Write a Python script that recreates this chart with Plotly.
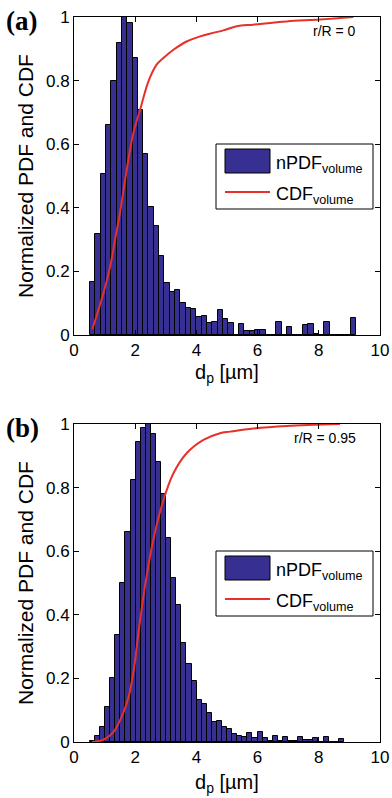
import plotly.graph_objects as go

# ---------------- data ----------------
# panel (a): r/R = 0, 50 histogram bins
bins_a_start = 0.52
bins_a_width = 0.174
npdf_a = [0.168, 0.318, 0.507, 0.661, 0.800, 0.918, 1.000, 0.981, 0.870, 0.708,
          0.569, 0.402, 0.343, 0.247, 0.165, 0.136, 0.142, 0.102, 0.085, 0.081,
          0.058, 0.060, 0.038, 0.042, 0.078, 0.051, 0.039, 0.000, 0.036, 0.014,
          0.014, 0.016, 0.017, 0.000, 0.000, 0.042, 0.000, 0.025, 0.000, 0.000,
          0.030, 0.034, 0.004, 0.000, 0.041, 0.000, 0.000, 0.000, 0.000, 0.055]
cdf_a_x = [0.60, 0.96, 1.18, 1.34, 1.50, 1.67, 1.94, 2.16, 2.43, 2.70, 2.92, 3.25,
           3.68, 4.12, 4.55, 4.88, 5.32, 5.86, 6.95, 8.04, 9.13]
cdf_a_y = [0.018, 0.131, 0.215, 0.299, 0.383, 0.488, 0.635, 0.708, 0.797, 0.850,
           0.871, 0.897, 0.923, 0.939, 0.950, 0.958, 0.971, 0.976, 0.986, 0.992, 1.0]

# panel (b): r/R = 0.95, 50 histogram bins
bins_b_start = 0.52
bins_b_width = 0.166
npdf_b = [0.003, 0.020, 0.048, 0.109, 0.200, 0.336, 0.500, 0.660, 0.824, 0.943,
          0.986, 1.000, 0.967, 0.879, 0.779, 0.643, 0.517, 0.430, 0.312, 0.244,
          0.193, 0.132, 0.118, 0.092, 0.062, 0.066, 0.046, 0.041, 0.026, 0.018,
          0.017, 0.028, 0.013, 0.030, 0.012, 0.002, 0.018, 0.004, 0.017, 0.004,
          0.004, 0.016, 0.005, 0.005, 0.013, 0.001, 0.015, 0.000, 0.000, 0.008]
cdf_b_x = [0.58, 0.96, 1.28, 1.56, 1.78, 1.99, 2.05, 2.32, 2.59, 2.92, 3.25, 3.68,
           4.23, 4.77, 5.10, 5.86, 6.95, 8.69]
cdf_b_y = [0.0, 0.007, 0.030, 0.080, 0.140, 0.250, 0.300, 0.490, 0.635, 0.760,
           0.845, 0.908, 0.950, 0.971, 0.976, 0.986, 0.994, 1.0]

x_ticks = [0, 2, 4, 6, 8, 10]
y_ticks = [0, 0.2, 0.4, 0.6, 0.8, 1]
y_tick_labels = ["0", "0.2", "0.4", "0.6", "0.8", "1"]
labels = ["(a)", "(b)"]
notes = ["r/R = 0", "r/R = 0.95"]
legend_names = ["nPDF<sub>volume</sub>", "CDF<sub>volume</sub>"]

# ---------------- figure ----------------
W, H = 392, 798
BAR = "#382f92"
RED = "#e8302a"
SANS = "Liberation Sans, Arial, Helvetica, sans-serif"
SERIF = "Liberation Serif, Times New Roman, serif"

centers_a = [bins_a_start + bins_a_width * (k + 0.5) for k in range(len(npdf_a))]
centers_b = [bins_b_start + bins_b_width * (k + 0.5) for k in range(len(npdf_b))]

fig = go.Figure()
fig.add_trace(go.Bar(x=centers_a, y=npdf_a, width=bins_a_width,
                     marker=dict(color=BAR, line=dict(color="black", width=1)),
                     name=legend_names[0], xaxis="x", yaxis="y"))
fig.add_trace(go.Scatter(x=cdf_a_x, y=cdf_a_y, mode="lines",
                         line=dict(color=RED, width=2, shape="spline"),
                         name=legend_names[1], xaxis="x", yaxis="y"))
fig.add_trace(go.Bar(x=centers_b, y=npdf_b, width=bins_b_width,
                     marker=dict(color=BAR, line=dict(color="black", width=1)),
                     name=legend_names[0], xaxis="x2", yaxis="y2"))
fig.add_trace(go.Scatter(x=cdf_b_x, y=cdf_b_y, mode="lines",
                         line=dict(color=RED, width=2, shape="spline"),
                         name=legend_names[1], xaxis="x2", yaxis="y2"))

xl, xr = 74, 380
panels = [(17, 335), (424, 742)]


def px_x(p):
    return p / W


def px_y(p):
    return 1 - p / H


axis_common = dict(showline=True, linecolor="black", linewidth=1, mirror="ticks",
                   ticks="inside", ticklen=5, tickcolor="black", showgrid=False,
                   zeroline=False, automargin=False,
                   tickfont=dict(family=SANS, size=17, color="black"))

layout = dict(width=W, height=H, margin=dict(l=0, r=0, t=0, b=0, autoexpand=False),
              paper_bgcolor="white", plot_bgcolor="white", bargap=0,
              font=dict(family=SANS, color="black"), showlegend=False)
for i, (top, bot) in enumerate(panels):
    sfx = "" if i == 0 else str(i + 1)
    layout["xaxis" + sfx] = dict(axis_common, domain=[px_x(xl), px_x(xr)], range=[0, 10],
                                 tickvals=x_ticks, anchor="y" + sfx)
    layout["yaxis" + sfx] = dict(axis_common, domain=[px_y(bot), px_y(top)], range=[0, 1],
                                 tickvals=y_ticks, ticktext=y_tick_labels, anchor="x" + sfx)
fig.update_layout(**layout)

ann = []
shapes = []
offs = [0, 3]
for i, (top, bot) in enumerate(panels):
    ann.append(dict(text="<b>" + labels[i] + "</b>", x=px_x(4), y=px_y(top - 13),
                    xref="paper", yref="paper", xanchor="left", yanchor="top", showarrow=False,
                    font=dict(family=SERIF, size=27, color="black")))
    ann.append(dict(text=notes[i], x=px_x(358), y=px_y(top + 14), xref="paper", yref="paper",
                    xanchor="right", yanchor="middle", showarrow=False,
                    font=dict(family=SANS, size=14, color="black")))
    ann.append(dict(text="d<sub>p</sub> [µm]", x=px_x((xl + xr) / 2), y=px_y(bot + 38 + offs[i]),
                    xref="paper", yref="paper", xanchor="center", yanchor="middle",
                    showarrow=False, font=dict(family=SANS, size=20, color="black")))
    ann.append(dict(text="Normalized PDF and CDF", x=px_x(25), y=px_y((top + bot) / 2),
                    xref="paper", yref="paper", xanchor="center", yanchor="middle",
                    showarrow=False, textangle=-90,
                    font=dict(family=SANS, size=21, color="black")))
    # legend box (drawn like the original MATLAB legend)
    shapes.append(dict(type="rect", xref="paper", yref="paper",
                       x0=px_x(216), x1=px_x(373), y0=px_y(top + 192), y1=px_y(top + 127),
                       line=dict(color="black", width=1), fillcolor="white", layer="above"))
    shapes.append(dict(type="rect", xref="paper", yref="paper",
                       x0=px_x(225), x1=px_x(270), y0=px_y(top + 156), y1=px_y(top + 132),
                       line=dict(color="black", width=1), fillcolor=BAR, layer="above"))
    shapes.append(dict(type="line", xref="paper", yref="paper",
                       x0=px_x(225), x1=px_x(270), y0=px_y(top + 175), y1=px_y(top + 175),
                       line=dict(color=RED, width=2), layer="above"))
    ann.append(dict(text=legend_names[0], x=px_x(274), y=px_y(top + 147),
                    xref="paper", yref="paper", xanchor="left", yanchor="middle",
                    showarrow=False, font=dict(family=SANS, size=18, color="black")))
    ann.append(dict(text=legend_names[1], x=px_x(274), y=px_y(top + 178),
                    xref="paper", yref="paper", xanchor="left", yanchor="middle",
                    showarrow=False, font=dict(family=SANS, size=18, color="black")))
fig.update_layout(annotations=ann, shapes=shapes)

fig.write_html("out.html",
               config={"displayModeBar": False},
               post_script="document.body.style.margin='0';document.body.style.padding='0';"
                           "document.documentElement.style.overflow='hidden';")
